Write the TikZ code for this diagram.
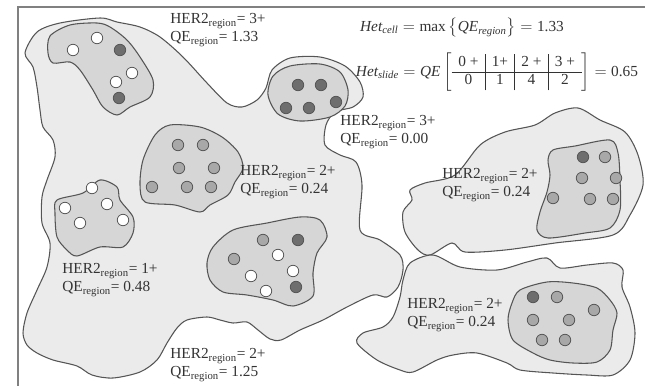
\documentclass[tikz,border=0pt]{standalone}
\usepackage{amsmath}
\usepackage{fontspec}
\setmainfont{Liberation Serif}
\definecolor{outerfill}{HTML}{EBEBEB}
\definecolor{innerfill}{HTML}{D6D6D6}
\definecolor{edge}{HTML}{555555}
\definecolor{darkcell}{HTML}{6E6E6E}
\definecolor{midcell}{HTML}{A8A8A8}
\definecolor{ink}{HTML}{333333}

\begin{document}
\begin{tikzpicture}[x=0.75pt,y=-0.75pt,font=\fontsize{11.5}{13.5}\selectfont,text=ink,
  region/.style={draw=edge,fill=outerfill,line width=0.8pt},
  blob/.style={draw=edge,fill=innerfill,line width=0.8pt},
  dk/.style={draw=edge,fill=darkcell,line width=0.6pt},
  md/.style={draw=edge,fill=midcell,line width=0.6pt},
  wt/.style={draw=edge,fill=white,line width=0.6pt},
  lbl/.style={align=left,inner sep=0pt}]
  \useasboundingbox (0,0) rectangle (645,386);
  \draw[gray,line width=0.8pt] (645,7) -- (18,7) -- (18,386);

  % large left region
  \draw[region] plot[smooth cycle,tension=0.5] coordinates {
    (25,53) (37,32) (60,23) (100,18) (117,22) (140,27) (160,37) (183,57)
    (207,83) (227,103) (242,107) (257,100) (266,88) (272,70) (290,58) (320,57)
    (345,66) (360,82) (363,97) (353,107) (335,112) (326,125) (325,145) (340,155)
    (356,162) (362,185) (360,230) (380,240) (400,255) (403,270) (398,287) (387,297)
    (373,295) (347,307) (323,320) (300,330) (281,340) (270,339) (258,330) (247,322)
    (233,323) (220,320) (207,317) (187,320) (177,328) (167,343) (157,360) (140,372)
    (113,378) (92,375) (77,366) (53,360) (37,353)
    (27,345) (23,333) (27,313) (37,290) (47,267) (50,243) (42,223) (42,197)
    (47,180) (55,157) (53,140) (43,127) (40,110) (37,87) (33,67)};
  % right regions
  \draw[region] plot[smooth cycle,tension=0.5] coordinates {
    (410,190) (425,183) (455,175) (480,145) (505,132) (535,125) (555,113) (578,108)
    (600,120) (625,132) (638,155) (643,185) (630,215) (613,235) (555,243) (505,250)
    (465,252) (452,243) (430,255) (418,250) (405,232) (403,212) (412,200)};
  \draw[region] plot[smooth cycle,tension=0.5] coordinates {
    (410,263) (433,255) (460,267) (497,270) (527,262) (547,258) (560,268) (587,265)
    (613,263) (623,270) (622,287) (630,307) (635,333) (630,360) (613,375) (587,375)
    (553,373) (520,370) (507,363) (477,353) (453,355) (437,360) (413,372) (400,370)
    (377,360) (357,343) (363,333) (383,327) (393,317) (400,297) (403,280)};

  % inner blobs
  \draw[blob] plot[smooth cycle,tension=0.5] coordinates {
    (50,36) (70,25) (97,23) (110,27) (127,40) (140,57) (153,80) (150,97)
    (130,107) (117,115) (103,107) (93,90) (80,70) (70,62) (53,63) (48,53)};
  \draw[blob] plot[smooth cycle,tension=0.5] coordinates {
    (268,95) (273,76) (290,66) (320,64) (340,72) (348,90) (345,106) (330,117)
    (300,121) (278,114)};
  \draw[blob] plot[smooth cycle,tension=0.5] coordinates {
    (170,125) (200,127) (222,137) (238,152) (243,168) (235,182) (228,195) (210,205)
    (200,212) (175,205) (145,202) (140,185) (143,160) (155,135)};
  \draw[blob] plot[smooth cycle,tension=0.5] coordinates {
    (57,200) (83,193) (100,180) (117,187) (120,200) (133,217) (133,233) (123,247)
    (100,247) (77,256) (67,250) (57,237) (55,213)};
  \draw[blob] plot[smooth cycle,tension=0.5] coordinates {
    (213,247) (233,230) (267,223) (300,217) (320,220) (327,237) (317,253) (313,273)
    (313,296) (293,306) (273,300) (247,295) (223,292) (210,280) (207,263)};
  \draw[blob] plot[smooth cycle,tension=0.5] coordinates {
    (553,150) (575,146) (610,140) (618,153) (620,180) (620,210) (610,228) (585,233)
    (548,238) (537,230) (540,212) (547,192) (550,175) (548,160)};
  \draw[blob] plot[smooth cycle,tension=0.5] coordinates {
    (520,290) (547,282) (573,283) (597,288) (610,300) (617,313) (613,330) (610,350)
    (597,362) (573,363) (550,360) (533,353) (513,340) (508,320) (512,303)};

  % cells
  \foreach \p in {(73,50),(97,38),(132,73),(116,82),(92,188),(65,208),(107,204),
    (80,223),(123,220),(278,255),(251,276),(293,271),(266,291)}
    \draw[wt] \p circle (4.3pt);
  \foreach \p in {(178,145),(203,145),(179,168),(214,168),(152,187),(187,187),(211,187),
    (263,240),(234,259),(605,157),(582,178),(616,178),(553,198),(590,199),(613,199),
    (557,297),(594,310),(533,320),(569,320),(542,340),(565,340)}
    \draw[md] \p circle (4.3pt);
  \foreach \p in {(120,50),(119,98),(298,85),(321,85),(286,108),(309,108),(336,102),
    (298,240),(296,287),(583,157),(533,297)}
    \draw[dk] \p circle (4.3pt);

  % labels
  \node[lbl] (qa) at (218,30) {HER2\textsubscript{region}= 3+\\QE\textsubscript{region}= 1.33};
  \node[lbl] (qb) at (388,132) {HER2\textsubscript{region}= 3+\\QE\textsubscript{region}= 0.00};
  \node[lbl] (qc) at (288,182) {HER2\textsubscript{region}= 2+\\QE\textsubscript{region}= 0.24};
  \node[lbl] (qd) at (110,280) {HER2\textsubscript{region}= 1+\\QE\textsubscript{region}= 0.48};
  \node[lbl] (qe) at (218,365) {HER2\textsubscript{region}= 2+\\QE\textsubscript{region}= 1.25};
  \node[lbl] (qf) at (490,185) {HER2\textsubscript{region}= 2+\\QE\textsubscript{region}= 0.24};
  \node[lbl] (qg) at (455,315) {HER2\textsubscript{region}= 2+\\QE\textsubscript{region}= 0.24};

  % formulas
  \node[inner sep=0pt] (hcell) at (462,27)
    {$\textit{Het}_{\textit{cell}} = \text{max}\left\{\textit{QE}_{\textit{region}}\right\} = \text{1.33}$};
  \node[inner sep=0pt] (hslide) at (497,72)
    {$\textit{Het}_{\textit{slide}} = \textit{QE}\left[\begin{array}{c|c|c|c}
      \text{0 +} & \text{1+} & \text{2 +} & \text{3 +}\\ \hline
      \text{0} & \text{1} & \text{4} & \text{2}\end{array}\right] = \text{0.65}$};
\end{tikzpicture}
\end{document}
